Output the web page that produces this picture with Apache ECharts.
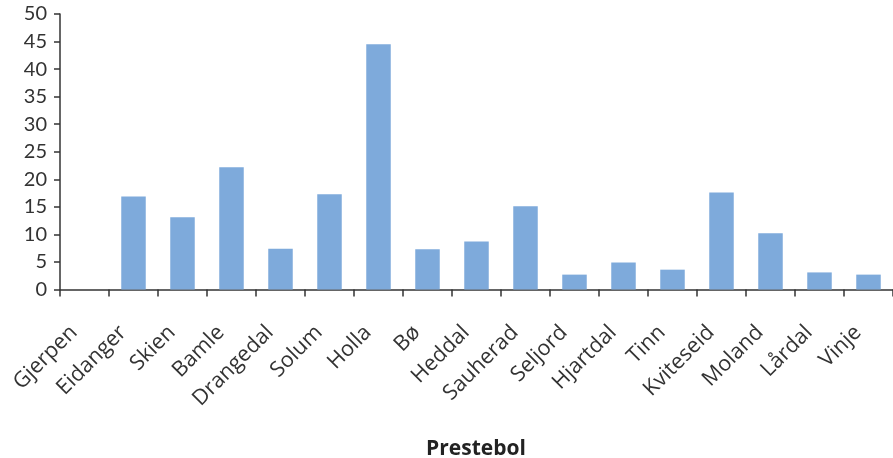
<!DOCTYPE html>
<html><head><meta charset="utf-8">
<script src="https://cdn.jsdelivr.net/npm/echarts@6/dist/echarts.min.js"></script>
<style>html,body{margin:0;padding:0;background:#fff}#c{width:893px;height:458px}</style>
</head><body><div id="c"></div>
<script>
const categories = ['Gjerpen','Eidanger','Skien','Bamle','Drangedal','Solum','Holla','Bø','Heddal','Sauherad','Seljord','Hjartdal','Tinn','Kviteseid','Moland','Lårdal','Vinje'];
const values = [0, 16.9, 13.1, 22.2, 7.4, 17.3, 44.5, 7.3, 8.7, 15.1, 2.7, 4.9, 3.6, 17.6, 10.2, 3.1, 2.7];
const xTitle = 'Prestebol';
const yMin = 0, yMax = 50, yStep = 5;

const chart = echarts.init(document.getElementById('c'), null, {renderer:'canvas'});
chart.setOption({
  animation:false,
  grid:{left:60, right:-8.5, top:14, bottom:168.5, containLabel:false},
  title:{text:xTitle, left:471, top:434, textAlign:'center',
    textStyle:{fontFamily:'Open Sans', fontWeight:'bold', fontSize:21, color:'#222'}},
  xAxis:{type:'category', data:categories,
    axisLine:{lineStyle:{color:'#333', width:1.5}},
    axisTick:{show:true, alignWithLabel:false, length:7, lineStyle:{color:'#333', width:1.5}},
    axisLabel:{interval:0, rotate:45, margin:29, padding:[0,15,0,0],
      fontFamily:'Open Sans', fontSize:21.5, color:'#333'}},
  yAxis:{type:'value', min:yMin, max:yMax, interval:yStep,
    splitLine:{show:false},
    axisLine:{show:true, lineStyle:{color:'#333', width:1.5}},
    axisTick:{show:true, length:6, lineStyle:{color:'#333', width:1.5}},
    axisLabel:{margin:13, fontFamily:'Lato', fontSize:20, color:'#333'}},
  series:[{type:'bar', data:values, barWidth:'50%', itemStyle:{color:'#7eaadb'}}]
});
</script></body></html>
